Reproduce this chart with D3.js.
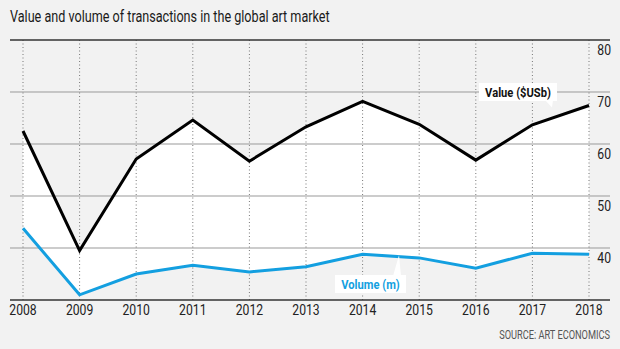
<!DOCTYPE html>
<html>
<head>
<meta charset="utf-8">
<script src="https://cdn.jsdelivr.net/npm/d3@7"></script>
<style>
  body { margin: 0; background: #f2f2f2; }
  svg { display: block; }
  text { font-family: "Roboto", sans-serif; }
  .title { font-size: 16.5px; fill: #1a1a1a; }
  .tick-label { font-size: 14px; fill: #222; }
  .source { font-size: 12px; fill: #555; }
  .series-label { font-size: 13px; font-weight: bold; }
</style>
</head>
<body>
<svg id="chart" width="620" height="349"></svg>
<script>
// Data
const years = [2008, 2009, 2010, 2011, 2012, 2013, 2014, 2015, 2016, 2017, 2018];
const valueSeries = [62.5, 39.5, 57.1, 64.6, 56.7, 63.3, 68.2, 63.8, 56.9, 63.7, 67.4];
const volumeSeries = [43.8, 31.0, 35.0, 36.7, 35.4, 36.4, 38.8, 38.1, 36.1, 39.0, 38.8];
const yTicks = [40, 50, 60, 70, 80];

const svg = d3.select("#chart");
const plotLeft = 10, plotRight = 610, plotTop = 40, plotBottom = 300;

const x = d3.scaleLinear().domain([2008, 2018]).range([23, 589]);
const y = d3.scaleLinear().domain([30, 80]).range([plotBottom, plotTop]);

// no condensed font installed, so squeeze text horizontally
function narrow(sel, px, py, sx) {
    return sel.attr("x", 0).attr("y", 0)
        .attr("transform", `translate(${px},${py}) scale(${sx},1)`);
}

// title
narrow(svg.append("text").attr("class", "title"), 10, 21.5, 0.765)
    .text("Value and volume of transactions in the global art market");

// white band between the two lines
const band = d3.area()
    .x((d, i) => x(years[i]))
    .y0((d, i) => y(volumeSeries[i]))
    .y1(d => y(d));
svg.append("path")
    .datum(valueSeries)
    .attr("d", band)
    .attr("fill", "#fff");

// horizontal grid
svg.append("g")
    .selectAll("line")
    .data(yTicks.filter(t => t < 80))
    .join("line")
    .attr("x1", plotLeft).attr("x2", plotRight)
    .attr("y1", d => y(d)).attr("y2", d => y(d))
    .attr("stroke", "#999").attr("stroke-width", 1);

// vertical dotted lines
svg.append("g")
    .selectAll("line")
    .data(years)
    .join("line")
    .attr("x1", d => x(d)).attr("x2", d => x(d))
    .attr("y1", plotTop).attr("y2", plotBottom)
    .attr("stroke", "#777").attr("stroke-width", 1)
    .attr("stroke-dasharray", "1,2.5");

// top and bottom rules
[plotTop, plotBottom].forEach(v => {
    svg.append("line")
        .attr("x1", plotLeft).attr("x2", plotRight)
        .attr("y1", v).attr("y2", v)
        .attr("stroke", "#333").attr("stroke-width", 1.5);
});

// y labels (right side, below gridline)
yTicks.forEach(t => {
    narrow(svg.append("text").attr("class", "tick-label").attr("text-anchor", "end"),
        611, y(t) + 14.5, 0.87).text(t);
});

// x labels
years.forEach(yr => {
    narrow(svg.append("text").attr("class", "tick-label").attr("text-anchor", "middle"),
        x(yr), 315, 0.87).text(yr);
});

// lines
const line = d3.line().x((d, i) => x(years[i])).y(d => y(d));
svg.append("path")
    .datum(valueSeries)
    .attr("d", line)
    .attr("fill", "none")
    .attr("stroke", "#000")
    .attr("stroke-width", 3);
svg.append("path")
    .datum(volumeSeries)
    .attr("d", line)
    .attr("fill", "none")
    .attr("stroke", "#139fe0")
    .attr("stroke-width", 3);

// series labels with pointer
function callout(text, color, bx, by, bw, bh, px, py, tipX, tipY) {
    const g = svg.append("g");
    g.append("path")
        .attr("d", `M${px - 4},${py} L${px + 4},${py} L${tipX},${tipY} Z`)
        .attr("fill", "#fff");
    g.append("rect")
        .attr("x", bx).attr("y", by)
        .attr("width", bw).attr("height", bh)
        .attr("fill", "#fff");
    narrow(g.append("text").attr("class", "series-label")
        .attr("text-anchor", "middle").attr("fill", color),
        bx + bw / 2, by + bh / 2 + 5, 0.86).text(text);
}
callout("Value ($USb)", "#111", 479, 83, 78, 18, 549, 100, 552, y(67.0));
callout("Volume (m)", "#139fe0", 335, 275, 71, 18, 397, 276, 399, y(38.6));

// source
narrow(svg.append("text").attr("class", "source").attr("text-anchor", "end"),
    610, 339, 0.77).text("SOURCE: ART ECONOMICS");
</script>
</body>
</html>
